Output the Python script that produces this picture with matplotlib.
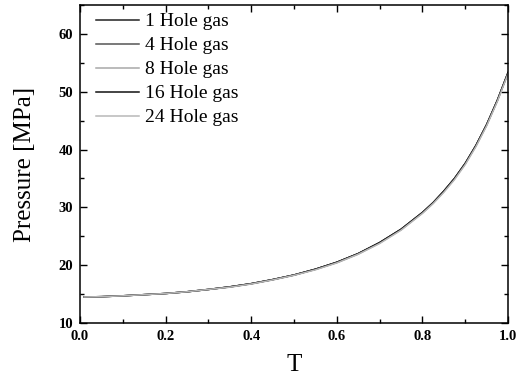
import matplotlib
matplotlib.use("Agg")
import matplotlib.pyplot as plt
from matplotlib.ticker import MultipleLocator

plt.rcParams["font.family"] = ["Liberation Serif", "DejaVu Serif"]

# Dimensionless time and gas pressure (MPa) for each hole configuration
t = [0.01, 0.05, 0.1, 0.15, 0.2, 0.25, 0.3, 0.35, 0.4, 0.45, 0.5, 0.55, 0.6,
     0.65, 0.7, 0.75, 0.8, 0.825, 0.85, 0.875, 0.9, 0.925, 0.95, 0.975, 1.0]
p_1hole = [14.5, 14.55, 14.7, 14.9, 15.1, 15.4, 15.8, 16.25, 16.8, 17.5, 18.3, 19.3, 20.5,
           22.0, 23.9, 26.2, 29.1, 30.8, 32.8, 35.0, 37.6, 40.7, 44.3, 48.5, 53.3]
p_4hole = [14.5, 14.55, 14.7, 14.9, 15.1, 15.4, 15.8, 16.25, 16.8, 17.5, 18.3, 19.3, 20.5,
           22.0, 23.9, 26.2, 29.1, 30.8, 32.8, 35.0, 37.6, 40.7, 44.3, 48.5, 53.3]
p_8hole = [14.5, 14.55, 14.7, 14.9, 15.1, 15.4, 15.8, 16.2, 16.75, 17.45, 18.25, 19.25, 20.4,
           21.9, 23.8, 26.1, 29.0, 30.7, 32.7, 34.9, 37.5, 40.6, 44.2, 48.4, 53.2]
p_16hole = [14.5, 14.55, 14.7, 14.9, 15.1, 15.4, 15.8, 16.25, 16.8, 17.5, 18.3, 19.3, 20.5,
            22.0, 23.9, 26.2, 29.1, 30.8, 32.8, 35.0, 37.6, 40.7, 44.3, 48.5, 53.3]
p_24hole = [14.5, 14.55, 14.7, 14.9, 15.1, 15.4, 15.8, 16.2, 16.75, 17.45, 18.25, 19.2, 20.4,
            21.9, 23.75, 26.05, 28.95, 30.65, 32.6, 34.8, 37.4, 40.5, 44.1, 48.3, 53.1]

series = [
    ("1 Hole gas", p_1hole, "#222222"),
    ("4 Hole gas", p_4hole, "#555555"),
    ("8 Hole gas", p_8hole, "#a8a8a8"),
    ("16 Hole gas", p_16hole, "#111111"),
    ("24 Hole gas", p_24hole, "#b8b8b8"),
]

fig = plt.figure(figsize=(5.27, 3.83), dpi=100)
ax = fig.add_axes([0.1518, 0.1567, 0.8122, 0.8303])

for label, p, color in series:
    ax.plot(t, p, color=color, lw=1.1, label=label)

ax.set_xlim(0.0, 1.0)
ax.set_ylim(10, 65)
ax.xaxis.set_major_locator(MultipleLocator(0.2))
ax.xaxis.set_minor_locator(MultipleLocator(0.1))
ax.yaxis.set_minor_locator(MultipleLocator(5))
ax.set_yticks([10, 20, 30, 40, 50, 60])

ax.tick_params(which="both", direction="in", top=True, right=True, width=1.0)
ax.tick_params(which="major", length=5, labelsize=10.5, pad=5)
ax.tick_params(which="minor", length=3)
for lab in ax.get_xticklabels() + ax.get_yticklabels():
    lab.set_fontweight("bold")
for s in ax.spines.values():
    s.set_linewidth(1.1)

ax.set_xlabel("T", fontsize=18, labelpad=8)
ax.set_ylabel("Pressure [MPa]", fontsize=18, labelpad=16)

ax.legend(loc="upper left", frameon=False, fontsize=14, handlelength=2.2,
          handletextpad=0.3, labelspacing=0.33, borderaxespad=0.0,
          bbox_to_anchor=(0.02, 1.0))

fig.savefig("out.png", dpi=100)
